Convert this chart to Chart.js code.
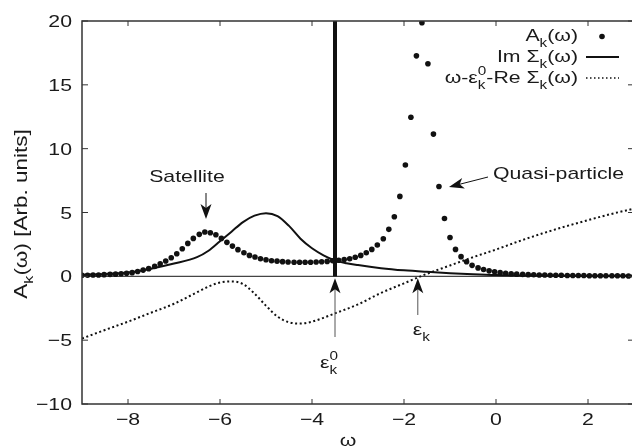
<!DOCTYPE html>
<html>
<head>
<meta charset="utf-8">
<script src="https://cdn.jsdelivr.net/npm/chart.js@4"></script>
<style>
  html, body { margin: 0; padding: 0; background: #fff; overflow: hidden; }
  #wrap { width: 640px; height: 447px; }
</style>
</head>
<body>
<div id="wrap"><canvas id="chart"></canvas></div>
<script>
// spectral function A_k(w), sampled on the frequency grid
const omega = [
  -9.00, -8.88, -8.76, -8.64, -8.52, -8.39, -8.27, -8.15, -8.03, -7.91,
  -7.79, -7.67, -7.55, -7.42, -7.30, -7.18, -7.06, -6.94, -6.82, -6.70,
  -6.58, -6.45, -6.33, -6.21, -6.09, -5.97, -5.85, -5.73, -5.61, -5.48,
  -5.36, -5.24, -5.12, -5.00, -4.88, -4.76, -4.64, -4.52, -4.39, -4.27,
  -4.15, -4.03, -3.91, -3.79, -3.67, -3.55, -3.42, -3.30, -3.18, -3.06,
  -2.94, -2.82, -2.70, -2.58, -2.45, -2.33, -2.21, -2.09, -1.97, -1.85,
  -1.73, -1.61, -1.48, -1.36, -1.24, -1.12, -1.00, -0.88, -0.76, -0.64,
  -0.52, -0.39, -0.27, -0.15, -0.03, 0.09, 0.21, 0.33, 0.45, 0.58,
  0.70, 0.82, 0.94, 1.06, 1.18, 1.30, 1.42, 1.55, 1.67, 1.79,
  1.91, 2.03, 2.15, 2.27, 2.39, 2.52, 2.64, 2.76, 2.88, 3.00
];
const spectral = [
  0.08, 0.09, 0.10, 0.11, 0.13, 0.15, 0.17, 0.20, 0.24, 0.29,
  0.38, 0.49, 0.60, 0.78, 0.99, 1.20, 1.46, 1.77, 2.16, 2.58,
  2.97, 3.29, 3.47, 3.41, 3.26, 2.97, 2.66, 2.37, 2.09, 1.85,
  1.64, 1.51, 1.38, 1.30, 1.22, 1.19, 1.15, 1.12, 1.10, 1.10,
  1.10, 1.10, 1.12, 1.14, 1.17, 1.22, 1.26, 1.31, 1.38, 1.49,
  1.64, 1.85, 2.11, 2.45, 2.94, 3.68, 4.67, 6.26, 8.72, 12.46,
  17.27, 19.86, 16.65, 11.14, 7.04, 4.53, 3.04, 2.11, 1.54, 1.14,
  0.86, 0.66, 0.53, 0.43, 0.35, 0.29, 0.24, 0.20, 0.17, 0.15,
  0.13, 0.12, 0.11, 0.10, 0.09, 0.08, 0.08, 0.07, 0.07, 0.06,
  0.06, 0.05, 0.05, 0.05, 0.04, 0.04, 0.04, 0.04, 0.03, 0.03
];

// Im Sigma_k(w)
const sigmaX = [-9, -8.5, -8, -7.5, -7, -6.5, -6.25, -6, -5.75, -5.5, -5.25, -5, -4.75, -4.5,
  -4.25, -4, -3.75, -3.5, -3.25, -3, -2.5, -2, -1.5, -1, -0.5, 0, 1, 2, 3];
const imSigma = [0.12, 0.18, 0.3, 0.6, 1.0, 1.5, 2.0, 2.75, 3.5, 4.25, 4.75, 4.95, 4.72, 3.95,
  2.95, 2.2, 1.65, 1.25, 1.03, 0.88, 0.64, 0.47, 0.35, 0.25, 0.17, 0.11, 0.06, 0.03, 0.02];

// w - eps0_k - Re Sigma_k(w)
const denomX = [-9, -8.5, -8, -7.5, -7, -6.5, -6.25, -6, -5.75, -5.5, -5.25, -5, -4.75, -4.5,
  -4.25, -4, -3.75, -3.5, -3, -2.5, -2, -1.5, -1, -0.5, 0, 0.5, 1, 1.5, 2, 2.5, 3];
const denom = [-4.87, -4.2, -3.55, -2.85, -2.15, -1.25, -0.8, -0.48, -0.4, -0.6, -1.35, -2.3, -3.15, -3.6,
  -3.7, -3.55, -3.25, -2.9, -2.2, -1.3, -0.55, 0.2, 0.85, 1.5, 2.1, 2.75, 3.35, 3.9, 4.4, 4.88, 5.3];

const eps0 = -3.5;
const epsK = -1.7;
const xTicks = [-8, -6, -4, -2, 0, 2];
const yTicks = [-10, -5, 0, 5, 10, 15, 20];

const FONT = '"Liberation Sans", Arial, Helvetica, sans-serif';
const SX = 1.25; // the reference text is set wide
const INK = "#1a1a1a";

const pts = (xs, ys) => xs.map((x, i) => ({ x, y: ys[i] }));

// rich text: parts with sub / sup, "hold" keeps x for a stacked sup
function rich(ctx, parts, x, y, opt = {}) {
  const size = opt.size || 17, align = opt.align || "left";
  ctx.save();
  ctx.translate(x, y);
  if (opt.rot) ctx.rotate(opt.rot);
  ctx.scale(SX, 1);
  ctx.fillStyle = INK;
  ctx.textBaseline = "alphabetic";
  let w = 0;
  const m = parts.map((p) => {
    const s = p.sub || p.sup ? size * 0.72 : size;
    ctx.font = s + "px " + FONT;
    const r = { p, s, x: w };
    const pw = ctx.measureText(p.t).width;
    if (!p.hold) w += pw;
    return r;
  });
  const x0 = align === "right" ? -w : align === "center" ? -w / 2 : 0;
  const base = size * 0.36;
  m.forEach((r) => {
    ctx.font = r.s + "px " + FONT;
    const dy = r.p.sub ? size * 0.32 : r.p.sup ? -size * 0.45 : 0;
    ctx.fillText(r.p.t, x0 + r.x, base + dy);
  });
  ctx.restore();
}

function arrow(ctx, x1, y1, x2, y2, color) {
  const a = Math.atan2(y2 - y1, x2 - x1);
  const L = 15, W = 5.5;
  ctx.save();
  ctx.strokeStyle = color;
  ctx.lineWidth = 1;
  ctx.beginPath();
  ctx.moveTo(x1, y1);
  ctx.lineTo(x2 - Math.cos(a) * 8, y2 - Math.sin(a) * 8);
  ctx.stroke();
  ctx.translate(x2, y2);
  ctx.rotate(a);
  ctx.fillStyle = "#111";
  ctx.beginPath();
  ctx.moveTo(0, 0);
  ctx.lineTo(-L, -W);
  ctx.lineTo(-L + 4, 0);
  ctx.lineTo(-L, W);
  ctx.closePath();
  ctx.fill();
  ctx.restore();
}

const decor = {
  id: "decor",
  afterDraw(chart) {
    const { ctx, chartArea: a, scales } = chart;
    const sx = scales.x, sy = scales.y;
    ctx.save();
    // frame
    ctx.strokeStyle = "#333";
    ctx.lineWidth = 1.5;
    ctx.strokeRect(a.left, a.top, a.right - a.left, a.bottom - a.top);
    ctx.lineWidth = 1;
    ctx.beginPath();
    xTicks.forEach((v) => {
      const p = sx.getPixelForValue(v);
      ctx.moveTo(p, a.bottom); ctx.lineTo(p, a.bottom - 5);
      ctx.moveTo(p, a.top); ctx.lineTo(p, a.top + 5);
    });
    yTicks.forEach((v) => {
      const p = sy.getPixelForValue(v);
      ctx.moveTo(a.left, p); ctx.lineTo(a.left + 6, p);
      ctx.moveTo(a.right, p); ctx.lineTo(a.right - 6, p);
    });
    ctx.stroke();
    ctx.restore();

    // tick labels
    xTicks.forEach((v) => {
      rich(ctx, [{ t: String(v).replace("-", "\u2212") }], sx.getPixelForValue(v), a.bottom + 15, { align: "center" });
    });
    yTicks.forEach((v) => {
      rich(ctx, [{ t: String(v).replace("-", "\u2212") }], a.left - 10, sy.getPixelForValue(v), { align: "right" });
    });

    // axis titles
    rich(ctx, [{ t: "\u03c9" }], 348, 440, { align: "center" });
    rich(ctx, [{ t: "A" }, { t: "k", sub: true }, { t: "(\u03c9) [Arb. units]" }], 21, 214,
      { align: "center", rot: -Math.PI / 2, size: 18 });

    // legend
    const lx = 578;
    rich(ctx, [{ t: "A" }, { t: "k", sub: true }, { t: "(\u03c9)" }], lx, 35, { align: "right" });
    rich(ctx, [{ t: "Im \u03a3" }, { t: "k", sub: true }, { t: "(\u03c9)" }], lx, 56, { align: "right" });
    rich(ctx, [{ t: "\u03c9-\u03b5" }, { t: "k", sub: true, hold: true }, { t: "0", sup: true },
      { t: "-Re \u03a3" }, { t: "k", sub: true }, { t: "(\u03c9)" }], lx, 77, { align: "right" });
    ctx.save();
    ctx.fillStyle = "#111";
    ctx.beginPath();
    ctx.arc(602, 36.5, 2.8, 0, Math.PI * 2);
    ctx.fill();
    ctx.strokeStyle = "#111";
    ctx.lineWidth = 2;
    ctx.beginPath();
    ctx.moveTo(586, 57); ctx.lineTo(619, 57);
    ctx.stroke();
    ctx.setLineDash([1.5, 2.5]);
    ctx.lineWidth = 1.5;
    ctx.beginPath();
    ctx.moveTo(586, 78); ctx.lineTo(619, 78);
    ctx.stroke();
    ctx.restore();

    // annotations
    rich(ctx, [{ t: "Satellite" }], 187, 176, { align: "center" });
    arrow(ctx, 206, 193, 206, 219, "#111");
    rich(ctx, [{ t: "Quasi-particle" }], 493, 173);
    arrow(ctx, 488, 177, 449, 187, "#111");

    const e0 = sx.getPixelForValue(eps0), ek = sx.getPixelForValue(epsK);
    const y0 = sy.getPixelForValue(0);
    arrow(ctx, e0, 337, e0, y0 + 2, "#555");
    arrow(ctx, ek, 315, ek, y0 + 2, "#555");
    rich(ctx, [{ t: "\u03b5" }, { t: "k", sub: true, hold: true }, { t: "0", sup: true }], e0 - 15, 362);
    rich(ctx, [{ t: "\u03b5" }, { t: "k", sub: true }], ek - 5, 329);
  }
};

new Chart(document.getElementById("chart"), {
  type: "scatter",
  data: {
    datasets: [
      {
        label: "zero",
        data: pts([-9, 3], [0, 0]),
        showLine: true, borderColor: "#444", borderWidth: 1.2, pointRadius: 0, order: 6
      },
      {
        label: "w-eps0-Re Sigma",
        data: pts(denomX, denom),
        showLine: true, borderColor: "#111", borderWidth: 2, borderDash: [2, 2.6],
        cubicInterpolationMode: "monotone", pointRadius: 0, order: 5
      },
      {
        label: "Im Sigma",
        data: pts(sigmaX, imSigma),
        showLine: true, borderColor: "#111", borderWidth: 2,
        cubicInterpolationMode: "monotone", pointRadius: 0, order: 4
      },
      {
        label: "eps0",
        data: pts([eps0, eps0], [0, 20]),
        showLine: true, borderColor: "#111", borderWidth: 4, pointRadius: 0, order: 3
      },
      {
        label: "A_k",
        data: pts(omega, spectral),
        showLine: false, pointRadius: 2.8, pointBorderWidth: 0,
        pointBackgroundColor: "#111", order: 1
      }
    ]
  },
  options: {
    responsive: true,
    maintainAspectRatio: false,
    animation: false,
    layout: { padding: { top: 21, right: 6, left: 0, bottom: 0 } },
    plugins: { legend: { display: false }, tooltip: { enabled: false } },
    scales: {
      x: {
        type: "linear", min: -9, max: 3,
        ticks: { display: false }, grid: { display: false }, border: { display: false },
        afterFit: (s) => { s.height = 43; }
      },
      y: {
        type: "linear", min: -10, max: 20,
        ticks: { display: false }, grid: { display: false }, border: { display: false },
        afterFit: (s) => { s.width = 82; }
      }
    }
  },
  plugins: [decor]
});
</script>
</body>
</html>
